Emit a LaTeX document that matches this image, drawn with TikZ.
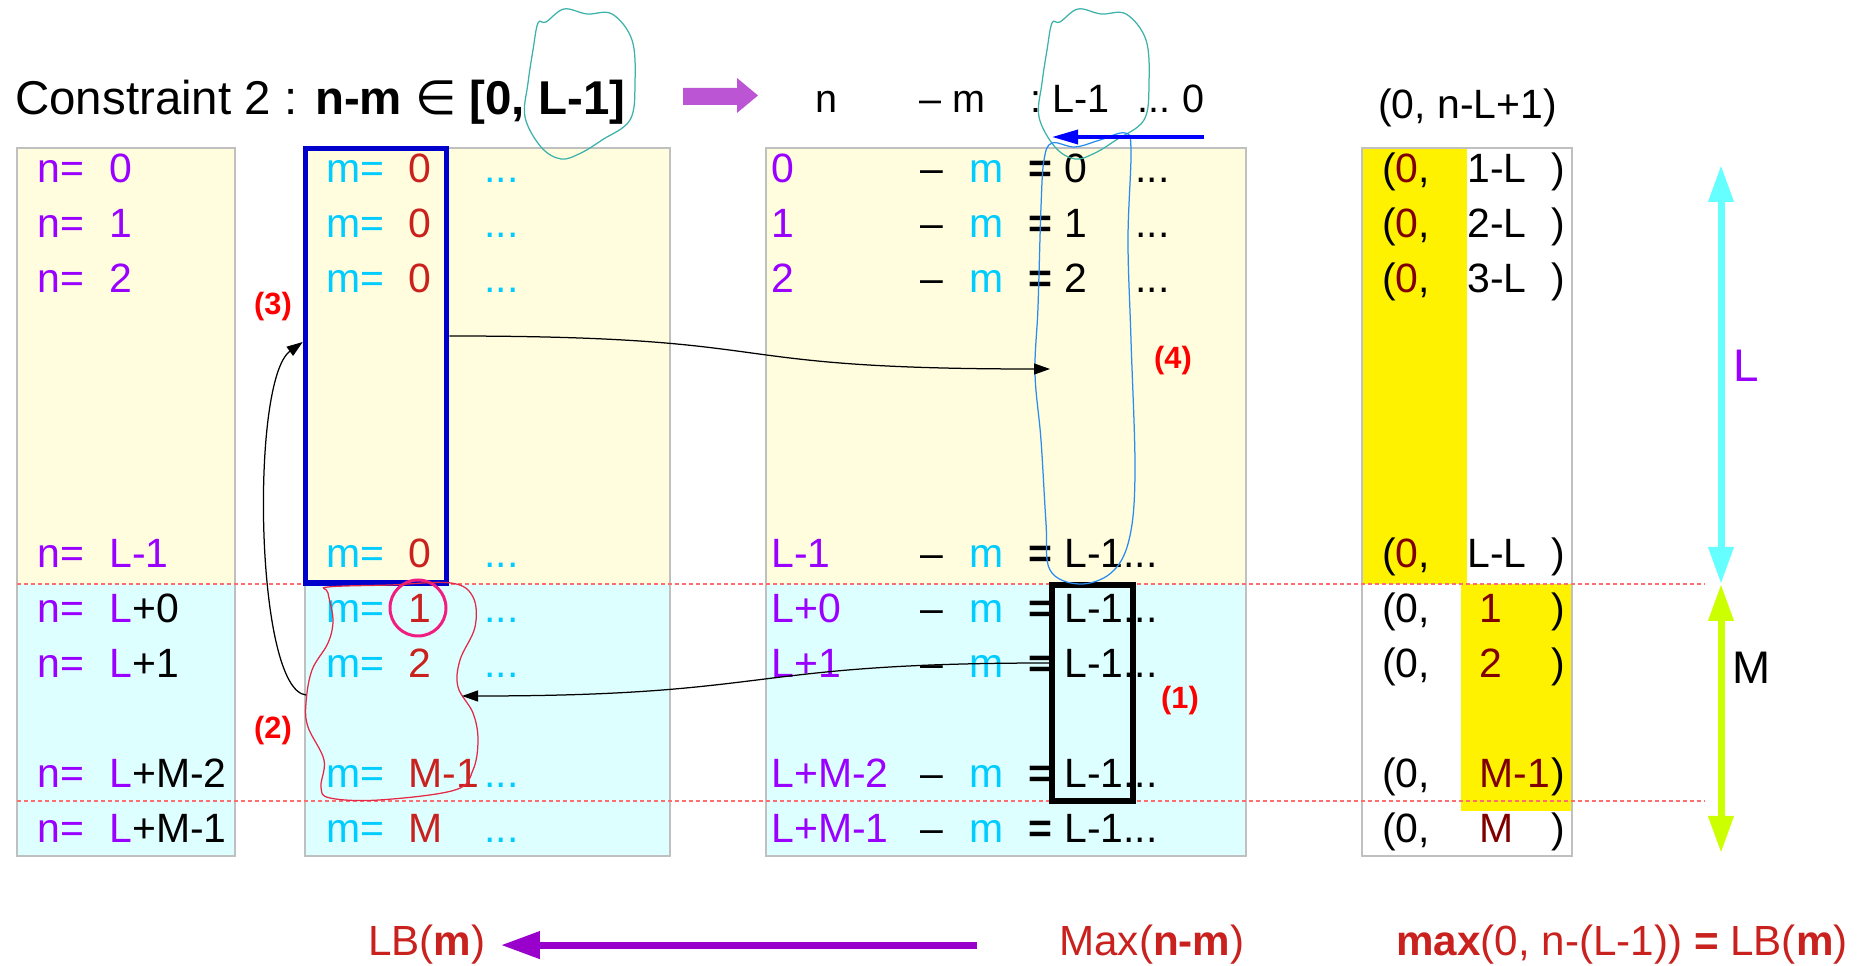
\documentclass[tikz,border=0pt]{standalone}
\usepackage{fontspec}
\setmainfont{Liberation Sans}
\newfontfamily\dejavu{DejaVu Sans}
\usepackage{xcolor}
\usepackage{tikz}
\usetikzlibrary{positioning}
\usetikzlibrary{arrows.meta}
\usetikzlibrary{fit}

\definecolor{nPurple}{RGB}{153,0,255}
\definecolor{mCyan}{RGB}{0,204,255}
\definecolor{mRed}{RGB}{201,33,30}
\definecolor{darkRed}{RGB}{128,0,0}
\definecolor{paleYellow}{RGB}{255,253,222}
\definecolor{paleCyan}{RGB}{222,255,255}
\definecolor{panelGray}{RGB}{192,192,192}
\definecolor{sepRed}{RGB}{255,110,110}
\definecolor{loopTeal}{RGB}{60,178,170}
\definecolor{loopBlue}{RGB}{40,140,240}
\definecolor{loopRed}{RGB}{228,40,70}
\definecolor{ringPink}{RGB}{240,30,130}
\definecolor{orchid}{RGB}{187,85,211}
\definecolor{deepViolet}{RGB}{153,0,204}
\definecolor{boxBlue}{RGB}{0,0,204}
\definecolor{lineCyan}{RGB}{102,255,255}
\definecolor{lineLime}{RGB}{204,255,0}

\begin{document}
\begin{tikzpicture}[
		x=0.2mm, y=-0.2mm,
		txt/.style={anchor=base west, inner sep=0pt, font=\fontsize{23.3}{28}\selectfont},
		hdr/.style={txt, font=\fontsize{22.5}{27}\selectfont},
		foot/.style={txt, text=mRed, font=\fontsize{24}{29}\selectfont},
		num/.style={inner sep=0pt, text=red, font=\bfseries\fontsize{17.5}{21}\selectfont},
		side/.style={inner sep=0pt, font=\fontsize{26}{31}\selectfont},
		panel/.style={draw=panelGray, line width=0.25mm},
		sep/.style={draw=sepRed, line width=0.25mm, dash pattern=on 0.8mm off 0.6mm},
		grpbox/.style={inner sep=0pt, line width=1.1mm},
		flow/.style={-{Triangle[length=3.2mm,width=2.2mm]}, line width=0.25mm},
		scribble/.style={line width=0.25mm},
		extent/.style={line width=1.4mm, {Triangle[length=7.4mm,width=4.8mm]}-{Triangle[length=7.4mm,width=4.8mm]}}
		]
		\useasboundingbox (0,0) rectangle (1862,966);
		
		% Panels
		\foreach \xa/\xb in {17/235, 305/670, 766/1246}{
			\fill[paleYellow] (\xa,148) rectangle (\xb,584);
			\fill[paleCyan] (\xa,584) rectangle (\xb,856);
			\draw[panel] (\xa,148) rectangle (\xb,856);
		}
		\fill[yellow] (1362,148) rectangle (1467,584);
		\fill[yellow] (1461,584) rectangle (1572,811);
		\draw[panel] (1362,148) rectangle (1572,856);
		\draw[sep] (17,584) -- (1705,584);
		\draw[sep] (17,801) -- (1705,801);
		
		% Title and header
		\node[txt, font=\fontsize{27}{32}\selectfont] (title) at (15,115)
		{Constraint 2 : \textbf{n-m} {\dejavu ∈} \textbf{[0, L-1]}};
		\fill[orchid] (683,88) -- (737,88) -- (737,78) -- (758,95.5) -- (737,113) -- (737,105) -- (683,105) -- cycle;
		\node[hdr] (hN) at (815,113) {n};
		\node[hdr] (hM) at (919,113) {– m};
		\node[hdr] (hColon) at (1030,113) {:};
		\node[hdr] (hTop) at (1052,113) {L-1};
		\node[hdr] (hDots) at (1137,113) {...};
		\node[hdr] (hZero) at (1182,113) {0};
		\node[txt] (hPair) at (1378,119) {(0, n-L+1)};
		
		% n column
		\foreach \r/\v in {0/0,1/1,2/2,7/L-1}{
			\node[txt, text=nPurple] (nEq\r) at (37,{183+55*\r}) {n=};
			\node[txt, text=nPurple] (nVal\r) at (109,{183+55*\r}) {\v};
		}
		\foreach \r/\v in {8/+0,9/+1,11/+M-2,12/+M-1}{
			\node[txt, text=nPurple] (nEq\r) at (37,{183+55*\r}) {n=};
			\node[txt] (nVal\r) at (109,{183+55*\r}) {\textcolor{nPurple}{L}\v};
		}
		
		% m column
		\foreach \r/\v in {0/0,1/0,2/0,7/0,8/1,9/2,11/M-1,12/M}{
			\node[txt, text=mCyan] (mEq\r) at (326,{183+55*\r}) {m=};
			\node[txt, text=mRed] (mVal\r) at (408,{183+55*\r}) {\v};
			\node[txt, text=mCyan] (mDots\r) at (484,{183+55*\r}) {...};
		}
		
		% n - m column
		\foreach \r/\v in {0/0,1/1,2/2,7/L-1,8/L+0,9/L+1,11/L+M-2,12/L+M-1}{
			\node[txt, text=nPurple] (dN\r) at (771,{183+55*\r}) {\v};
			\node[txt] (dMinus\r) at (920,{183+55*\r}) {–};
			\node[txt, text=mCyan] (dM\r) at (969,{183+55*\r}) {m};
			\node[txt] (dEq\r) at (1028,{183+55*\r}) {\textbf{=}};
		}
		\foreach \r in {0,1,2}{
			\node[txt] (dVal\r) at (1064,{183+55*\r}) {\r};
			\node[txt] (dDots\r) at (1135,{183+55*\r}) {...};
		}
		\foreach \r in {7,8,9,11,12}
		\node[txt] (dVal\r) at (1064,{183+55*\r}) {L-1...};
		
		% lower bound column
		\foreach \r/\v in {0/1-L,1/2-L,2/3-L,7/L-L}{
			\node[txt] (pL\r) at (1382,{183+55*\r}) {(\textcolor{darkRed}{0},};
			\node[txt] (pV\r) at (1467,{183+55*\r}) {\v};
			\node[txt] (pR\r) at (1551,{183+55*\r}) {)};
		}
		\foreach \r/\v in {8/1,9/2,11/M-1,12/M}{
			\node[txt] (pL\r) at (1382,{183+55*\r}) {(0,};
			\node[txt, text=darkRed] (pV\r) at (1479,{183+55*\r}) {\v};
			\node[txt] (pR\r) at (1551,{183+55*\r}) {)};
		}
		
		% Groups
		\node[grpbox, draw=boxBlue, fit={(305.5,148.5) (446.5,583)}] (zeroBox) {};
		\node[grpbox, draw=black, fit={(1052,585) (1133,801)}] (lOneBox) {};
		\node[draw=ringPink, circle, line width=0.6mm, minimum size=11.2mm, inner sep=0pt] (oneRing) at (418,608) {};
		
		\foreach \dx in {0,514}
		\draw[scribble, loopTeal, shift={(\dx,0)}] plot[smooth cycle, tension=0.6] coordinates {
			(538,23) (546,22) (564,9) (587,14) (612,14) (632,40) (635,83) (630,120)
			(602,140) (581,153) (561,159) (541,147) (525,117) (528,83) (533,50)};
		\draw[scribble, loopBlue] plot[smooth cycle, tension=0.6] coordinates {
			(1052,143) (1075,147) (1100,140) (1125,133) (1131,150) (1128,240) (1131,340)
			(1135,473) (1129,540) (1111,573) (1079,584) (1050,570) (1046,523) (1041,440)
			(1035,373) (1038,307) (1041,207) (1044,160)};
		\draw[scribble, loopRed] plot[smooth cycle, tension=0.6] coordinates {
			(328,587) (390,585) (451,583) (473,597) (475,627) (460,660) (458,687) (473,713)
			(478,740) (473,770) (455,790) (379,800) (330,798) (321,787) (324,760) (308,727)
			(306,703) (312,670) (328,643) (333,620) (328,593)};
		\coordinate (grpTwoE) at (462,696);
		\coordinate (grpTwoW) at (306,695);
		\coordinate (colTip) at (1050,369);
		
		% Steps
		\draw[flow] ([yshift=6mm]lOneBox.west) .. controls (740,663) and (780,696) .. (grpTwoE);
		\draw[flow] (grpTwoW) .. controls (255,690) and (250,380) .. ([yshift=4.75mm]zeroBox.west);
		\draw[flow] ([yshift=5.95mm]zeroBox.east) .. controls (800,336) and (700,369) .. (colTip);
		\node[num] (stepOne) at (1180,701) {(1)};
		\node[num] (stepTwo) at (273,731) {(2)};
		\node[num] (stepThree) at (273,307) {(3)};
		\node[num] (stepFour) at (1173,361) {(4)};
		
		\coordinate (revTail) at (1204,137);
		\draw[blue, line width=0.7mm, -{Triangle[length=5.2mm,width=2.8mm]}] (revTail) -- (revTail -| hTop.west);
		
		% Ranges
		\coordinate (lTop) at (1721,165);
		\coordinate (lBot) at (1721,584);
		\coordinate (mBot) at (1721,853);
		\draw[extent, lineCyan] (lBot) -- (lTop);
		\draw[extent, lineLime] (lBot) -- (mBot);
		\node[side, text=nPurple] (lenL) at (1746,366) {L};
		\node[side] (lenM) at (1752,668) {M};
		
		% Bottom line
		\node[foot] (lbLeft) at (368,956) {LB(\textbf{m})};
		\node[foot] (maxDiff) at (1059,956) {Max(\textbf{n-m})};
		\node[foot] (lbRight) at (1396,956) {\textbf{max}(0, n-(L-1)) \textbf{=} LB(\textbf{m})};
		\draw[deepViolet, line width=1.4mm, -{Triangle[length=7.8mm,width=5.2mm]}] ([xshift=-16.4mm]maxDiff.west) -- ([xshift=3mm]lbLeft.east);
		
	\end{tikzpicture}
\end{document}
